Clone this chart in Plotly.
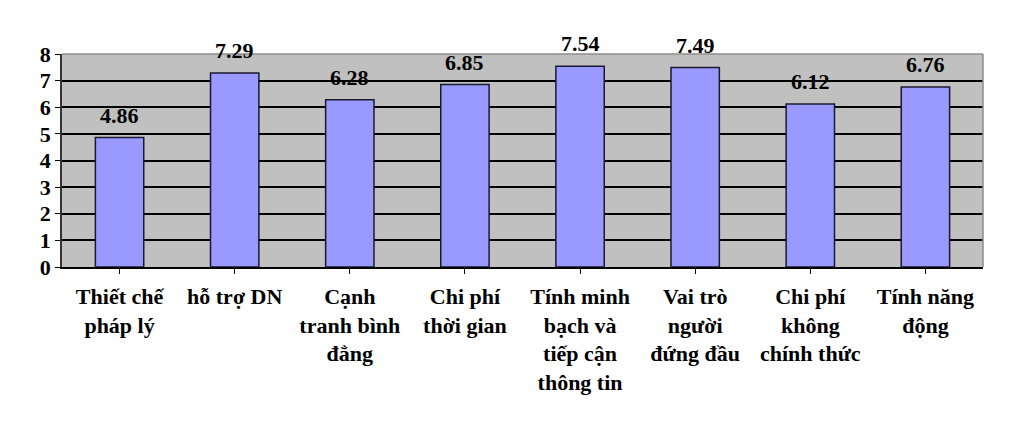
import plotly.graph_objects as go

categories = ["Thiết chế<br>pháp lý", "hỗ trợ DN", "Cạnh<br>tranh bình<br>đẳng", "Chi phí<br>thời gian",
              "Tính minh<br>bạch và<br>tiếp cận<br>thông tin", "Vai trò<br>người<br>đứng đầu",
              "Chi phí<br>không<br>chính thức", "Tính năng<br>động"]
values = [4.86, 7.29, 6.28, 6.85, 7.54, 7.49, 6.12, 6.76]
y_ticks = [0, 1, 2, 3, 4, 5, 6, 7, 8]

font_family = "Liberation Serif"
xs = list(range(len(categories)))

fig = go.Figure(go.Bar(
    x=xs, y=values,
    width=0.42,
    marker=dict(color="#9999FF", line=dict(color="#1a1a2e", width=1.5)),
))

# value labels above the bars
for x, v in zip(xs, values):
    fig.add_annotation(x=x, y=v, text=f"<b>{v:.2f}</b>", showarrow=False, yanchor="bottom", yshift=8,
                       font=dict(family=font_family, size=22, color="black"))

# grey frame on top and right like the original
fig.add_shape(type="line", xref="paper", yref="paper", x0=0, x1=1, y0=1, y1=1, line=dict(color="#8c8c8c", width=1.5), layer="above")
fig.add_shape(type="line", xref="paper", yref="paper", x0=1, x1=1, y0=0, y1=1, line=dict(color="#8c8c8c", width=1.5), layer="above")

fig.update_layout(
    width=1022, height=430,
    paper_bgcolor="white", plot_bgcolor="#C0C0C0",
    margin=dict(l=54, r=47, t=46, b=171),
    showlegend=False,
    font=dict(family=font_family, size=22, color="black"),
)
fig.update_xaxes(
    tickmode="array", tickvals=xs, ticktext=[f"<b>{c}</b>" for c in categories],
    range=[-0.5, 7.5], tickson="boundaries", ticks="outside", ticklen=5, tickcolor="black",
    showline=True, linecolor="black", linewidth=1.5, showgrid=False,
    tickfont=dict(family=font_family, size=22), tickangle=0, ticklabelstandoff=4,
)
fig.update_yaxes(
    range=[0, 8], tickvals=y_ticks, ticktext=[f"<b>{t}</b>" for t in y_ticks],
    ticks="outside", ticklen=5, tickcolor="black",
    showline=True, linecolor="#333333", linewidth=1.5,
    showgrid=True, gridcolor="black", gridwidth=1.5, zeroline=False,
    tickfont=dict(family=font_family, size=22),
)

fig.write_html("out.html")
